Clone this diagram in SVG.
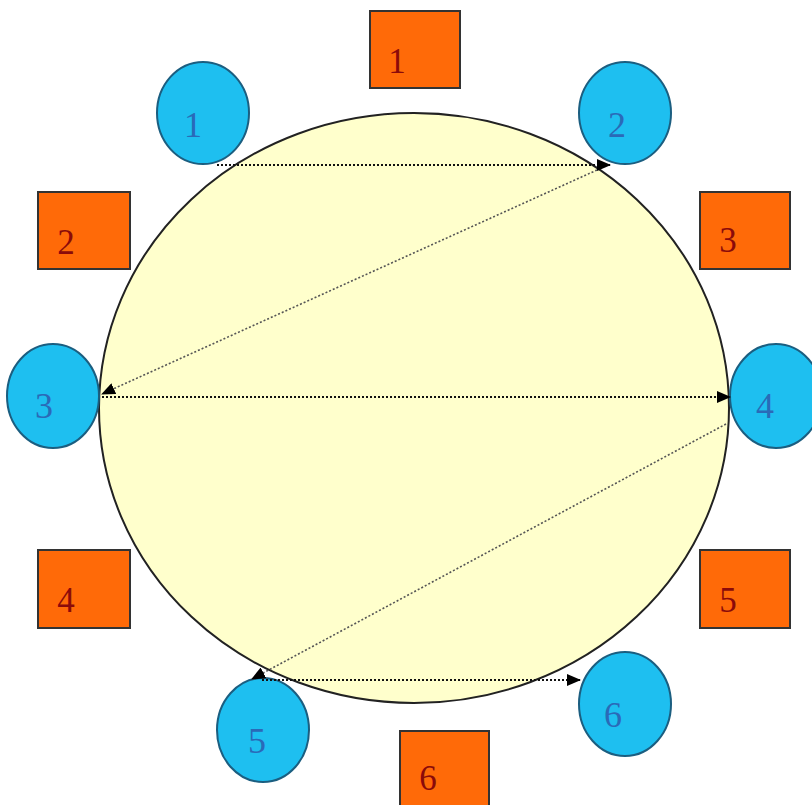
<svg xmlns="http://www.w3.org/2000/svg" width="812" height="805" viewBox="0 0 812 805">
<style>
.ring{fill:#FFFFCC;stroke:#222;stroke-width:2}
.node circle,.node ellipse{fill:#1EBFF0;stroke:#1B5E80;stroke-width:2}
.ntext{font-family:"Liberation Serif","Times New Roman",serif;font-size:36px;fill:#2A6AB8}
.box rect{fill:#FF6A08;stroke:#333;stroke-width:2}
.btext{font-family:"Liberation Serif","Times New Roman",serif;font-size:35px;fill:#8B0A0A}
.con{fill:none;stroke:#111;stroke-width:2;stroke-dasharray:2 2}
.con2{fill:none;stroke:#555;stroke-width:1.6;stroke-dasharray:2 2}
</style>
<defs>
<marker id="ah" markerUnits="userSpaceOnUse" markerWidth="14" markerHeight="12" refX="13" refY="6" orient="auto">
<path d="M0,0 L14,6 L0,12 Z" fill="#000"/>
</marker>
</defs>
<rect width="812" height="805" fill="#fff"/>
<g id="ring"><ellipse class="ring" cx="414" cy="408" rx="315" ry="295"/></g>

<g id="n1" class="node"><ellipse cx="203" cy="113" rx="46" ry="51"/><text class="ntext" x="193" y="137" text-anchor="middle">1</text></g>
<g id="n2" class="node"><ellipse cx="625" cy="113" rx="46" ry="51"/><text class="ntext" x="617" y="137" text-anchor="middle">2</text></g>
<g id="n3" class="node"><ellipse cx="53" cy="396" rx="46" ry="52"/><text class="ntext" x="44" y="418" text-anchor="middle">3</text></g>
<g id="n4" class="node"><ellipse cx="776" cy="396" rx="46" ry="52"/><text class="ntext" x="765" y="418" text-anchor="middle">4</text></g>
<g id="n5" class="node"><ellipse cx="263" cy="730" rx="46" ry="52"/><text class="ntext" x="257" y="753" text-anchor="middle">5</text></g>
<g id="n6" class="node"><ellipse cx="625" cy="704" rx="46" ry="52"/><text class="ntext" x="613" y="727" text-anchor="middle">6</text></g>

<g id="b1" class="box"><rect x="370" y="11" width="90" height="77"/><text class="btext" x="397" y="73" text-anchor="middle">1</text></g>
<g id="b2" class="box"><rect x="38" y="192" width="92" height="77"/><text class="btext" x="66" y="254" text-anchor="middle">2</text></g>
<g id="b3" class="box"><rect x="700" y="192" width="90" height="77"/><text class="btext" x="728" y="252" text-anchor="middle">3</text></g>
<g id="b4" class="box"><rect x="38" y="550" width="92" height="78"/><text class="btext" x="66" y="612" text-anchor="middle">4</text></g>
<g id="b5" class="box"><rect x="700" y="550" width="90" height="78"/><text class="btext" x="728" y="612" text-anchor="middle">5</text></g>
<g id="b6" class="box"><rect x="400" y="731" width="89" height="80"/><text class="btext" x="428" y="790" text-anchor="middle">6</text></g>

<g id="connectors">
<line class="con" x1="217" y1="165" x2="610" y2="165" marker-end="url(#ah)"/>
<line class="con2" x1="597" y1="170" x2="102" y2="394" marker-end="url(#ah)"/>
<line class="con" x1="102" y1="397" x2="730" y2="397" marker-end="url(#ah)"/>
<line class="con2" x1="726" y1="424" x2="252" y2="679" marker-end="url(#ah)"/>
<line class="con" x1="262" y1="680" x2="580" y2="680" marker-end="url(#ah)"/>
</g>
</svg>
